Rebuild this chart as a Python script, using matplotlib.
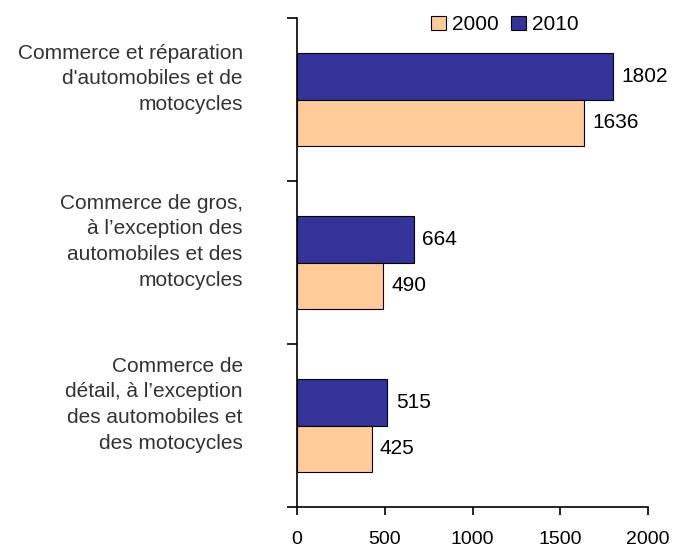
import matplotlib
matplotlib.use("Agg")
import matplotlib.pyplot as plt
import numpy as np

categories = [
    "Commerce et réparation\nd'automobiles et de\nmotocycles",
    "Commerce de gros,\nà l\u2019exception des\nautomobiles et des\nmotocycles",
    "Commerce de\ndétail, à l\u2019exception\ndes automobiles et\ndes motocycles",
]
years = ["2000", "2010"]
values_2000 = [1636, 490, 425]
values_2010 = [1802, 664, 515]
x_ticks = [0, 500, 1000, 1500, 2000]

plt.rcParams['font.family'] = ['Liberation Sans', 'DejaVu Sans']

fig = plt.figure(figsize=(6.75, 5.48), dpi=100)
ax = fig.add_axes([0.44, 0.0748, 0.52, 0.892])

pos = np.arange(len(categories))
h = 0.285
c2000 = "#FFCC99"
c2010 = "#333399"
b10 = ax.barh(pos - h / 2, values_2010, height=h, color=c2010, edgecolor="black", linewidth=0.8, label=years[1])
b00 = ax.barh(pos + h / 2, values_2000, height=h, color=c2000, edgecolor="black", linewidth=0.8, label=years[0])

for bars, vals in ((b10, values_2010), (b00, values_2000)):
    for b, v in zip(bars, vals):
        ax.annotate(str(v), (b.get_width(), b.get_y() + b.get_height() / 2),
                    xytext=(6, 0), textcoords="offset points",
                    va="center", ha="left", fontsize=15, color="black")

ax.set_ylim(2.5, -0.5)
ax.set_xlim(0, 2000)
ax.set_yticks(np.arange(-0.5, len(categories), 1.0))
ax.set_yticklabels([])
ax.set_xticks(x_ticks)
ax.set_xticklabels([str(t) for t in x_ticks], fontsize=14)
ax.tick_params(axis="x", direction="out", length=6, width=1.2, pad=11)
ax.tick_params(axis="y", direction="out", length=7, width=1.2)

for i, lab in enumerate(categories):
    ax.annotate(lab, (0, i), xycoords=("axes fraction", "data"),
                xytext=(-39, 15), textcoords="offset points",
                ha="right", va="center", fontsize=15, color="#333333",
                multialignment="right", linespacing=1.45)

for s in ("top", "right"):
    ax.spines[s].set_visible(False)
for s in ("left", "bottom"):
    ax.spines[s].set_linewidth(1.2)

leg = fig.legend(handles=[b00, b10], labels=years, loc="center",
                 bbox_to_anchor=(0.748, 0.955), ncol=2, frameon=False,
                 fontsize=15, handlelength=0.7, handleheight=0.7,
                 handletextpad=0.3, columnspacing=0.6)

fig.savefig("out.png", dpi=100)
